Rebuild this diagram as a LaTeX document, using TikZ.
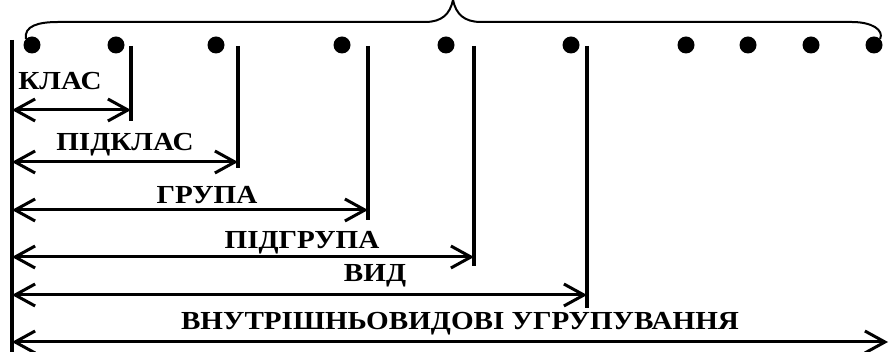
\documentclass[tikz,border=0pt]{standalone}
\usepackage{fontspec}
\setmainfont[FakeStretch=1.12]{Liberation Serif}
\usetikzlibrary{arrows.meta}

\begin{document}
\begin{tikzpicture}[
    x=1pt, y=-1pt,
    dot/.style={circle, fill=black, inner sep=0pt, minimum size=17pt},
    rank/.style={line width=3.2pt},
    span/.style={{Straight Barb[length=20pt,width=22pt]}-{Straight Barb[length=20pt,width=22pt]},
        line width=3pt},
    lbl/.style={font=\bfseries\fontsize{26}{26}\selectfont, inner sep=0pt},
]
\useasboundingbox (0,0) rectangle (889,352);

% === Dots ===
\foreach \x [count=\i] in {32,116,216,342,446,571,686,748,811,874}
    \node[dot] (d\i) at (\x,45) {};

% === Brace over the dots ===
\draw[line width=2pt] (d1.north west) .. controls (24,26) and (38,22) .. (58,22)
    -- (425,22) .. controls (442,22) and (450,14) .. (453,0)
    .. controls (456,14) and (464,22) .. (481,22)
    -- (852,22) .. controls (872,22) and (884,30) .. (d10.north east);

% === Vertical bars ===
\coordinate (top) at (12,40);
\coordinate (bottom) at (12,352);
\draw[rank] (top) -- (bottom);

\foreach \name/\x/\ya/\yb in {klas/131/110/121, pidklas/238/162/168,
    grupa/368/210/220, pidgrupa/474/257/266, vyd/587/295/308}{
    \coordinate (\name-top) at (\x,46);
    \coordinate (\name-end) at (\x,\ya);
    \coordinate (\name-start) at (12,\ya);
    \draw[rank] (\name-top) -- (\x,\yb);
    \draw[span] (\name-start) -- (\name-end);
}
\coordinate (vnutr-start) at (12,342);
\coordinate (vnutr-end) at (888,342);
\draw[span] (vnutr-start) -- (vnutr-end);

% === Labels ===
\node[lbl] (l-klas) at (60,81) {КЛАС};
\node[lbl] (l-pidklas) at (125,145) {ПІДКЛАС};
\node[lbl] (l-grupa) at (207,195) {ГРУПА};
\node[lbl] (l-pidgrupa) at (302,243) {ПІДГРУПА};
\node[lbl] (l-vyd) at (375,276) {ВИД};
\node[lbl] (l-vnutr) at (460,324) {ВНУТРІШНЬОВИДОВІ УГРУПУВАННЯ};

\end{tikzpicture}
\end{document}
